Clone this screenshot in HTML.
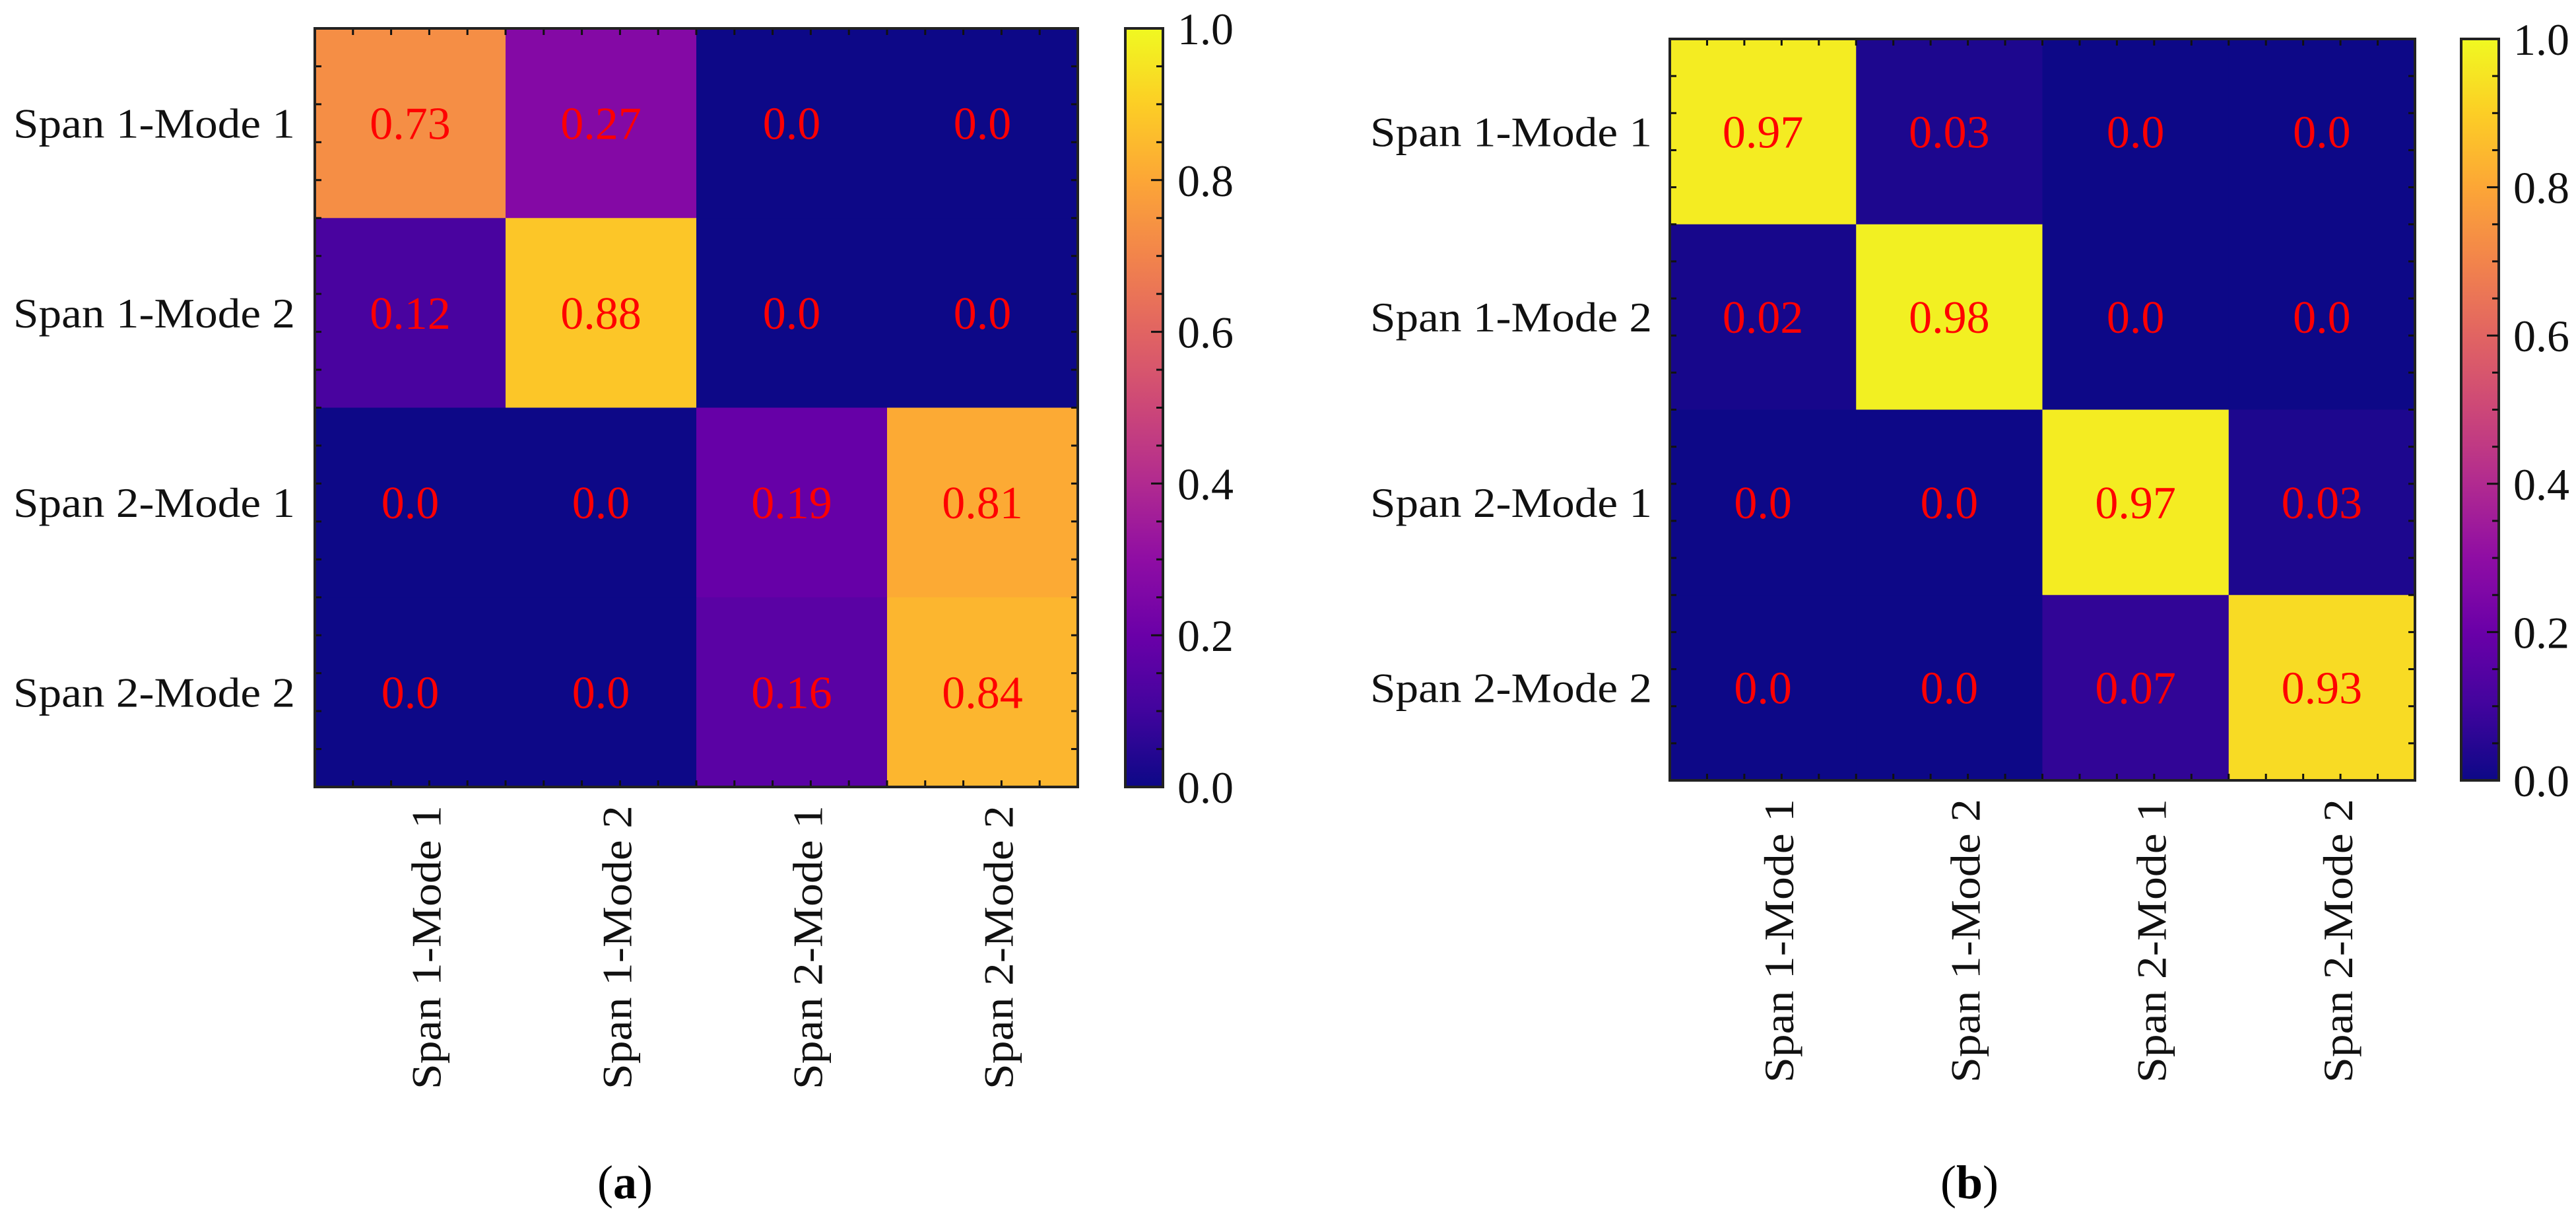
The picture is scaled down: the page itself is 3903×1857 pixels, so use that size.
<!DOCTYPE html>
<html><head><meta charset="utf-8"><style>
html,body{margin:0;padding:0;background:#fff;}
svg{display:block;}
text{font-family:"Liberation Serif",serif;}
</style></head>
<body>
<svg id="fig" width="3903" height="1857" viewBox="0 0 3903 1857"></svg>
<script>
const categories = ["Span 1-Mode 1","Span 1-Mode 2","Span 2-Mode 1","Span 2-Mode 2"];
const valuesA = [[0.73,0.27,0.0,0.0],[0.12,0.88,0.0,0.0],[0.0,0.0,0.19,0.81],[0.0,0.0,0.16,0.84]];
const labelsA = [["0.73","0.27","0.0","0.0"],["0.12","0.88","0.0","0.0"],["0.0","0.0","0.19","0.81"],["0.0","0.0","0.16","0.84"]];
const valuesB = [[0.97,0.03,0.0,0.0],[0.02,0.98,0.0,0.0],[0.0,0.0,0.97,0.03],[0.0,0.0,0.07,0.93]];
const labelsB = [["0.97","0.03","0.0","0.0"],["0.02","0.98","0.0","0.0"],["0.0","0.0","0.97","0.03"],["0.0","0.0","0.07","0.93"]];
const cbarTicks = [0,0.2,0.4,0.6,0.8,1.0];
const cbarTickLabels = ["0.0","0.2","0.4","0.6","0.8","1.0"];

const NS="http://www.w3.org/2000/svg";
const svg=document.getElementById('fig');
const stops=["#0d0887","#41049d","#6a00a8","#8f0da4","#b12a90","#cc4778","#e16462","#f2844b","#fca636","#fcce25","#f0f921"];
function hex(h){return [1,3,5].map(i=>parseInt(h.substr(i,2),16));}
function plasma(t){t=Math.max(0,Math.min(1,t));const p=t*10;const i=Math.min(9,Math.floor(p));const f=p-i;
 const a=hex(stops[i]),b=hex(stops[i+1]);return "rgb("+a.map((v,k)=>Math.round(v+(b[k]-v)*f)).join(",")+")";}
function el(tag,attrs,parent){const e=document.createElementNS(NS,tag);for(const k in attrs)e.setAttribute(k,attrs[k]);(parent||svg).appendChild(e);return e;}

const defs=el('defs',{});
const lg=el('linearGradient',{id:'plasmaGrad',x1:'0',y1:'1',x2:'0',y2:'0'},defs);
for(let i=0;i<=20;i++){el('stop',{offset:(i/20),'stop-color':plasma(i/20)},lg);}

function panel(cfg){
 const g=el('g',{});
 
 
 const n=categories.length;
 const cw=(cfg.x1-cfg.x0)/n, ch=(cfg.y1-cfg.y0)/n;
 const xs=v=>cfg.x0+(v+0.5)*cw;
 const ys=v=>cfg.y0+(v+0.5)*ch;
 for(let r=0;r<n;r++)for(let c=0;c<n;c++){
  const rect=el('rect',{x:xs(c)-cw/2,y:ys(r)-ch/2,width:cw+0.5,height:ch+0.5,fill:plasma(cfg.values[r][c])},g);
  
  
 }
 for(let r=0;r<n;r++)for(let c=0;c<n;c++){
  const t=el('text',{x:xs(c),y:ys(r)+24,'text-anchor':'middle','font-size':70,fill:'#ff0000'},g);
  t.textContent=cfg.labels[r][c];
  
  
 }
 const tk={stroke:'#111','stroke-width':3};
 for(let k=0;k<=5*n;k++){
  const v=-0.5+k*0.2; const major=Math.abs(v-Math.round(v))<1e-6;
  const L=major?20:10;
  if(k===0||k===5*n) continue;
  const X=xs(v),Y=ys(v);
  el('line',Object.assign({x1:X,y1:cfg.y1,x2:X,y2:cfg.y1-L},tk),g);
  el('line',Object.assign({x1:X,y1:cfg.y0,x2:X,y2:cfg.y0+L},tk),g);
  el('line',Object.assign({x1:cfg.x0,y1:Y,x2:cfg.x0+L,y2:Y},tk),g);
  el('line',Object.assign({x1:cfg.x1,y1:Y,x2:cfg.x1-L,y2:Y},tk),g);
 }
 const frame=el('rect',{x:cfg.x0,y:cfg.y0,width:cfg.x1-cfg.x0,height:cfg.y1-cfg.y0,fill:'none',stroke:'#222','stroke-width':4},g);
 
 
 for(let r=0;r<n;r++){
  const t=el('text',{x:cfg.ylabRight,y:ys(r)+22,'text-anchor':'end','font-size':64,textLength:427,lengthAdjust:'spacingAndGlyphs',fill:'#111'},g);
  t.textContent=categories[r];
  
  
 }
 for(let c=0;c<n;c++){
  const bx=xs(c)+46, ty=cfg.y1+28;
  const t=el('text',{x:0,y:0,'text-anchor':'end','font-size':64,textLength:430,lengthAdjust:'spacingAndGlyphs',fill:'#111',transform:'translate('+bx+','+ty+') rotate(-90)'},g);
  t.textContent=categories[c];
  
  
 }
 const cb=el('g',{},g);
 
 
 const cby=v=>cfg.y1-v*(cfg.y1-cfg.y0);
 el('rect',{x:cfg.cx0,y:cfg.y0,width:cfg.cx1-cfg.cx0,height:cfg.y1-cfg.y0,fill:'url(#plasmaGrad)',stroke:'#222','stroke-width':4},cb);
 for(let k=1;k<20;k++){
  const v=k*0.05; const major=k%4===0; const Y=cby(v);
  el('line',Object.assign({x1:cfg.cx1,y1:Y,x2:cfg.cx1-(major?18:10),y2:Y},tk),cb);
 }
 cbarTicks.forEach((v,i)=>{
  const t=el('text',{x:cfg.cx1+22,y:cby(v)+24,'font-size':68,fill:'#111'},cb);
  t.textContent=cbarTickLabels[i];
  
  
 });
 const cap=el('text',{x:cfg.capX,y:1815,'text-anchor':'middle','font-size':72,fill:'#000'},g);
 const p1=el('tspan',{},cap);p1.textContent='(';
 const p2=el('tspan',{'font-weight':'bold'},cap);p2.textContent=cfg.cap;
 const p3=el('tspan',{},cap);p3.textContent=')';
 
 
}
panel({name:'heatmap-a',values:valuesA,labels:labelsA,x0:477,x1:1633,y0:43,y1:1192,cx0:1705,cx1:1762,ylabRight:447,capX:947,cap:'a'});
panel({name:'heatmap-b',values:valuesB,labels:labelsB,x0:2530,x1:3659,y0:59,y1:1182,cx0:3729,cx1:3786,ylabRight:2503,capX:2984,cap:'b'});
</script>
</body></html>
